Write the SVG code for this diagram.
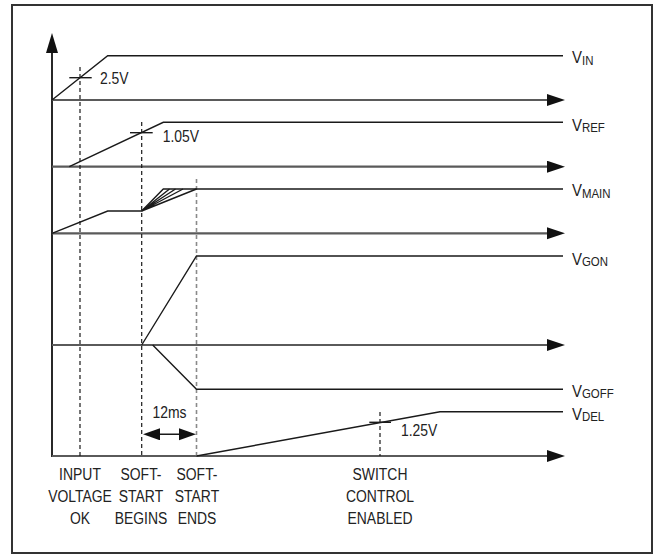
<svg xmlns="http://www.w3.org/2000/svg" width="654" height="555" viewBox="0 0 654 555">
<style>
.frame{fill:#fff;stroke:#333;stroke-width:2}
.axis{stroke:#111;stroke-width:1.8;fill:none}
.base{stroke:#5a5a5a;stroke-width:2.2;fill:none}
.sig{stroke:#1a1a1a;stroke-width:1.4;fill:none;stroke-linejoin:miter}
.tick{stroke:#1a1a1a;stroke-width:1.4}
.dash{stroke:#1a1a1a;stroke-width:1.2;stroke-dasharray:4 3}
.dashg{stroke:#8a8a8a;stroke-width:1.6;stroke-dasharray:4 3}
text{font-family:"Liberation Sans",Arial,sans-serif;fill:#222}
.t{font-size:17px}
.lbl{font-size:17px}
.sub{font-size:13px}
</style>
<defs>
<marker id="ah" markerUnits="userSpaceOnUse" markerWidth="20" markerHeight="14" refX="8" refY="6" orient="auto">
<path d="M0,0 L18,6 L0,12 z" fill="#111"/>
</marker>
<marker id="ahy" markerUnits="userSpaceOnUse" markerWidth="22" markerHeight="14" refX="8" refY="6" orient="auto">
<path d="M0,0 L20,6 L0,12 z" fill="#111"/>
</marker>
<marker id="ah2" markerUnits="userSpaceOnUse" markerWidth="20" markerHeight="14" refX="7" refY="6" orient="auto-start-reverse">
<path d="M0,0 L17,6 L0,12 z" fill="#111"/>
</marker>
</defs>
<rect class="frame" x="12" y="5" width="640" height="548"/>

<g id="connectors">
<line class="axis" x1="52" y1="457" x2="52" y2="45" marker-end="url(#ahy)"/>
<line class="base" x1="52" y1="100" x2="555" y2="100" marker-end="url(#ah)"/>
<line class="base" x1="52" y1="166.7" x2="555" y2="166.7" marker-end="url(#ah)"/>
<line class="base" x1="52" y1="233.3" x2="555" y2="233.3" marker-end="url(#ah)"/>
<line class="base" x1="52" y1="345" x2="555" y2="345" marker-end="url(#ah)"/>
<line class="base" x1="52" y1="456" x2="555" y2="456" marker-end="url(#ah)"/>
<line class="dash" x1="80" y1="67" x2="80" y2="456"/>
<line class="dash" x1="141.7" y1="122" x2="141.7" y2="456"/>
<line class="dashg" x1="196.5" y1="179" x2="196.5" y2="456"/>
<line class="dash" x1="380" y1="412" x2="380" y2="456"/>
<line class="sig" x1="153" y1="434.3" x2="186" y2="434.3" stroke-width="1.6" marker-start="url(#ah2)" marker-end="url(#ah2)"/>
</g>

<g id="vin">
<path class="sig" d="M52,100 L107.7,55.7 L563,55.7"/>
<line class="tick" x1="69.3" y1="77.7" x2="91.7" y2="77.7"/>
<text class="t" transform="translate(100,84.3) scale(0.82,1)">2.5V</text>
<text class="lbl" transform="translate(572,63) scale(0.88,1)">V<tspan class="sub" dy="1.5">IN</tspan></text>
</g>

<g id="vref">
<path class="sig" d="M69.3,166.7 L163.3,122.3 L563,122.3"/>
<line class="tick" x1="130" y1="132.7" x2="152.7" y2="132.7"/>
<text class="t" transform="translate(162.7,142) scale(0.82,1)">1.05V</text>
<text class="lbl" transform="translate(572,130.5) scale(0.88,1)">V<tspan class="sub" dy="1.5">REF</tspan></text>
</g>

<g id="vmain">
<path class="sig" d="M52,233.3 L107.7,211 L141.7,211 L163.3,189 L563,189"/>
<path class="sig" d="M141.7,211 L169.5,189 M141.7,211 L175.5,189 M141.7,211 L183,189 M141.7,211 L196.5,189"/>
<text class="lbl" transform="translate(572,196) scale(0.88,1)">V<tspan class="sub" dy="1.5">MAIN</tspan></text>
</g>

<g id="vgon">
<path class="sig" d="M141.7,345 L196.5,256 L563,256"/>
<text class="lbl" transform="translate(572,264.5) scale(0.88,1)">V<tspan class="sub" dy="1.5">GON</tspan></text>
</g>

<g id="vgoff">
<path class="sig" d="M152.7,345 L196.5,389.3 L563,389.3"/>
<text class="lbl" transform="translate(572,396.7) scale(0.88,1)">V<tspan class="sub" dy="1.5">GOFF</tspan></text>
</g>

<g id="vdel">
<path class="sig" d="M196.5,456 L440,411.7 L563,411.7"/>
<line class="tick" x1="369.3" y1="422.3" x2="391" y2="422.3"/>
<text class="t" transform="translate(401,435.5) scale(0.82,1)">1.25V</text>
<text class="lbl" transform="translate(572,419.5) scale(0.88,1)">V<tspan class="sub" dy="1.5">DEL</tspan></text>
</g>

<g id="softstart-time">
<text class="t" text-anchor="middle" transform="translate(169.5,418.3) scale(0.82,1)">12ms</text>
</g>

<g id="label-input">
<text class="t" text-anchor="middle" transform="translate(80,480) scale(0.82,1)">INPUT</text>
<text class="t" text-anchor="middle" transform="translate(80,502) scale(0.82,1)">VOLTAGE</text>
<text class="t" text-anchor="middle" transform="translate(80,524) scale(0.82,1)">OK</text>
</g>
<g id="label-ss-begins">
<text class="t" text-anchor="middle" transform="translate(141,480) scale(0.82,1)">SOFT-</text>
<text class="t" text-anchor="middle" transform="translate(141,502) scale(0.82,1)">START</text>
<text class="t" text-anchor="middle" transform="translate(141,524) scale(0.82,1)">BEGINS</text>
</g>
<g id="label-ss-ends">
<text class="t" text-anchor="middle" transform="translate(197,480) scale(0.82,1)">SOFT-</text>
<text class="t" text-anchor="middle" transform="translate(197,502) scale(0.82,1)">START</text>
<text class="t" text-anchor="middle" transform="translate(197,524) scale(0.82,1)">ENDS</text>
</g>
<g id="label-switch">
<text class="t" text-anchor="middle" transform="translate(380,480) scale(0.82,1)">SWITCH</text>
<text class="t" text-anchor="middle" transform="translate(380,502) scale(0.82,1)">CONTROL</text>
<text class="t" text-anchor="middle" transform="translate(380,524) scale(0.82,1)">ENABLED</text>
</g>
</svg>
